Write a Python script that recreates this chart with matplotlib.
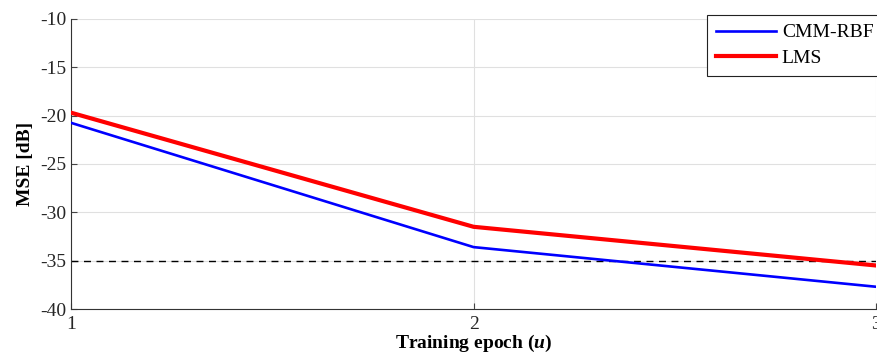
import matplotlib
matplotlib.use("Agg")
import matplotlib.pyplot as plt

epochs = [1, 2, 3]
cmm_rbf = [-20.75, -33.6, -37.7]
lms = [-19.7, -31.5, -35.5]
threshold = -35
xticks = [1, 2, 3]
yticks = [-40, -35, -30, -25, -20, -15, -10]

plt.rcParams['font.family'] = ['Liberation Serif', 'DejaVu Serif']
plt.rcParams['axes.unicode_minus'] = False
plt.rcParams['mathtext.fontset'] = 'custom'
plt.rcParams['mathtext.bf'] = 'Liberation Serif:bold:italic'

fig = plt.figure(figsize=(8.77, 3.56), dpi=100)
ax = fig.add_axes([0.081, 0.132, 0.918, 0.815])

ax.plot(epochs, cmm_rbf, color='#0000ff', lw=1.9, label='CMM-RBF', zorder=3)
ax.plot(epochs, lms, color='#ff0000', lw=3.0, label='LMS', zorder=3)
ax.axhline(threshold, color='black', lw=1.0, ls=(0, (5, 4)), zorder=2)

ax.set_xlim(1, 3)
ax.set_ylim(-40, -10)
ax.set_xticks(xticks)
ax.set_yticks(yticks)
ax.tick_params(direction='in', length=4, labelsize=14, color='#444444', labelcolor='#262626')
ax.tick_params(axis='x', pad=5)
ax.grid(True, color='#e0e0e0', lw=0.8)
ax.set_axisbelow(True)
for s in ['top', 'right']:
    ax.spines[s].set_visible(False)
for s in ['left', 'bottom']:
    ax.spines[s].set_color('#333333')
    ax.spines[s].set_linewidth(0.8)

ax.set_ylabel('MSE [dB]', fontsize=14, fontweight='bold', labelpad=4)
ax.set_xlabel(r'Training epoch ($\mathbf{u}$)', fontsize=14, fontweight='bold', labelpad=0)

leg = ax.legend(loc='upper left', bbox_to_anchor=(707 / 877, 1 - 15 / 356),
                bbox_transform=fig.transFigure, fontsize=14,
                frameon=True, fancybox=False, edgecolor='#222222', framealpha=1,
                handlelength=3.1, borderpad=0.45, labelspacing=0.4, handletextpad=0.3,
                borderaxespad=0)
leg.get_frame().set_linewidth(0.8)

fig.savefig('out.png', dpi=100)
